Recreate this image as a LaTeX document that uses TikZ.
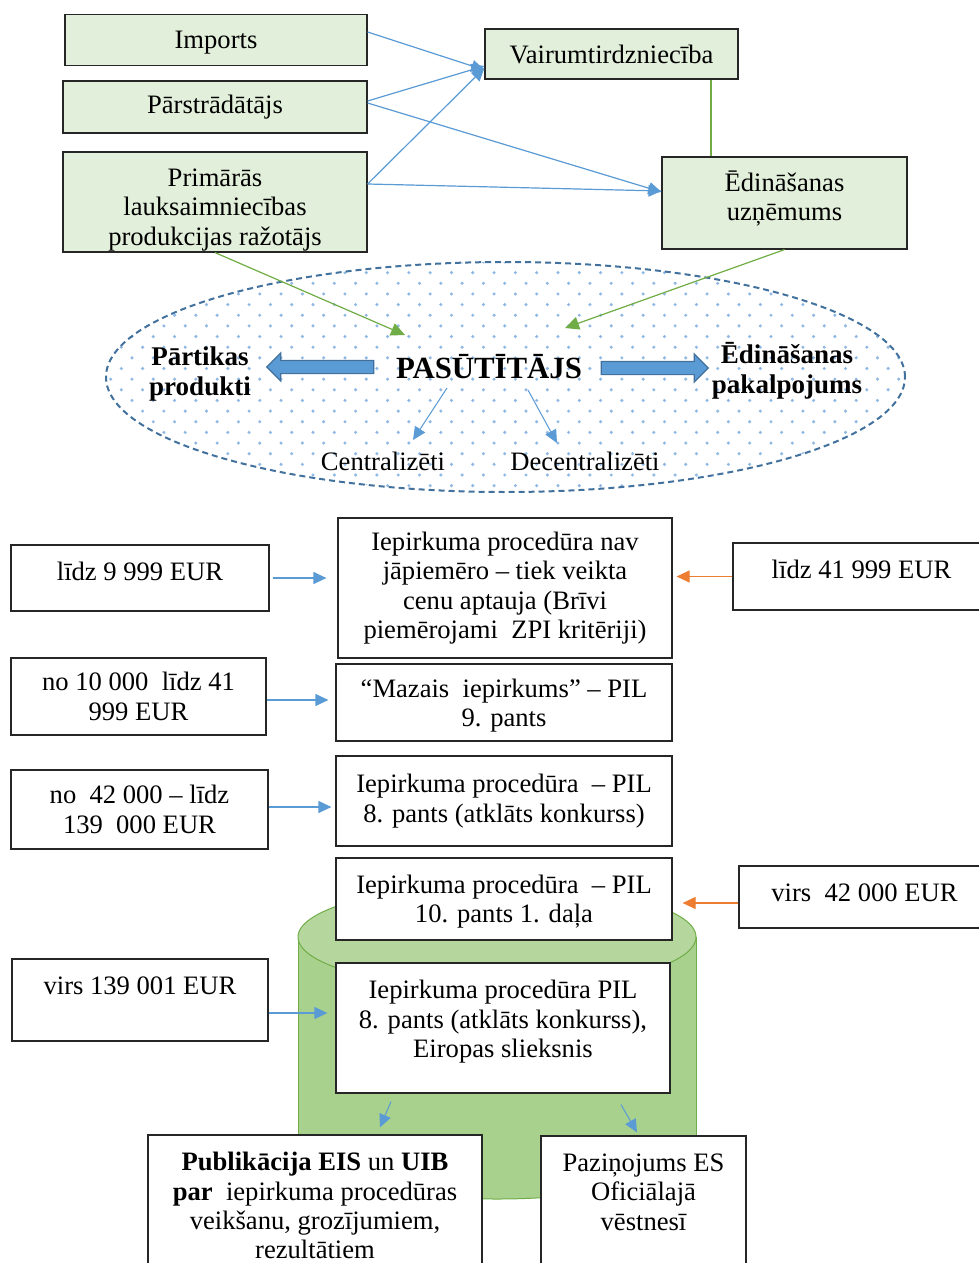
\documentclass[tikz,border=0pt]{standalone}
\usepackage{fontspec}
\setmainfont{Liberation Serif}
\usepackage{tikz}
\usetikzlibrary{arrows.meta, positioning, shapes.arrows, calc}
\definecolor{Zalsgaiss}{RGB}{226,239,218}
\definecolor{Zals}{RGB}{112,173,71}
\definecolor{Zilais}{RGB}{91,155,213}
\definecolor{Zilstums}{RGB}{65,113,156}
\definecolor{Oranzs}{RGB}{237,125,49}
\definecolor{Punkti}{RGB}{143,185,228}
\definecolor{Cilindrs}{RGB}{169,209,142}
\definecolor{Cilvirsus}{RGB}{181,215,158}

\begin{document}
\begin{tikzpicture}[x=0.5pt, y=-0.5pt,
  every node/.style={font=\fontsize{13.3}{14.7}\selectfont},
  dalibnieks/.style={
    rectangle, draw=black!85, line width=0.6pt,
    fill=Zalsgaiss, align=center, inner sep=0pt
  },
  summa/.style={
    rectangle, draw=black!85, line width=0.6pt,
    fill=white, align=center, inner sep=0pt
  },
  procedura/.style={summa},
  bultzila/.style={-{Triangle[length=6.5pt, width=6pt]}, draw=Zilais, fill=Zilais, line width=0.6pt},
  bultorz/.style={-{Triangle[length=6.5pt, width=6pt]}, draw=Oranzs, fill=Oranzs, line width=0.6pt},
  bultzala/.style={-{Triangle[length=7pt, width=6.5pt]}, draw=Zals, fill=Zals, line width=0.6pt},
  bloks/.style={
    single arrow, draw=Zilstums, fill=Zilais, line width=0.6pt,
    text height=3pt, text depth=3pt, single arrow head extend=3.75pt,
    minimum height=53.5pt, inner sep=0pt
  },
  virsraksts/.style={font=\fontsize{13.5}{15}\selectfont\bfseries, align=center}
]
  \useasboundingbox (0,0) rectangle (979,1263);
  \clip (0,0) rectangle (979,1263);

  % --- Piegadataji (augsa) ---
  \node[dalibnieks, minimum width=151pt, minimum height=25.5pt, text depth=0pt] (imports) at (216,40) {Imports};
  \node[dalibnieks, minimum width=152pt, minimum height=26pt]   (parstr)   at (215,107)   {Pārstrādātājs};
  \node[dalibnieks, minimum width=152pt, minimum height=50pt, text height=43pt, text depth=0pt] (primaras) at (215,202) {Primārās\\lauksaimniecības\\produkcijas ražotājs};
  \node[dalibnieks, minimum width=126.5pt, minimum height=25pt] (vairum)   at (611.5,54)  {Vairumtirdzniecība};
  \node[dalibnieks, minimum width=122.5pt, minimum height=46pt, text depth=7.5pt] (edin) at (784.5,203) {Ēdināšanas\\uzņēmums};

  \draw[bultzila] ([yshift=4pt]imports.east)  -- ([yshift=-8pt]vairum.west);
  \draw[bultzila] ([yshift=3pt]parstr.east)   -- ([yshift=-6pt]vairum.west);
  \draw[bultzila] ([yshift=2pt]parstr.east)   -- ([yshift=5.5pt]edin.west);
  \draw[bultzila] ([yshift=9pt]primaras.east) -- ([yshift=-7pt]vairum.west);
  \draw[bultzila] ([yshift=9pt]primaras.east) -- ([yshift=6pt]edin.west);
  \draw[Zals, line width=0.6pt] ([xshift=49.75pt]vairum.south) -- ([xshift=-36.75pt]edin.north);

  % --- Pasutitaja elipse ---
  \fill[white] (505.5,377) ellipse [x radius=199.75pt, y radius=57.5pt];
  \begin{scope}
    \clip (505.5,377) ellipse [x radius=199.75pt, y radius=57.5pt];
    \foreach \r in {0,...,22}
      \foreach \c in {0,...,38}
        \fill[Punkti] ({100+\c*21.3+mod(\r,2)*10.65}, {262+\r*10.65}) circle (0.85pt);
  \end{scope}
  \draw[Zilstums, line width=1pt, dash pattern=on 3pt off 2pt]
    (505.5,377) ellipse [x radius=199.75pt, y radius=57.5pt];

  \node[font=\fontsize{15.4}{17}\selectfont\bfseries] (pas) at (489,367) {PASŪTĪTĀJS};
  \node[virsraksts] (partika) at (200,374) {Pārtikas\\produkti};
  \node[virsraksts] (edpak)   at (787,371) {Ēdināšanas\\pakalpojums};
  \node (centr)   at (383,461) {Centralizēti};
  \node (decentr) at (585,461) {Decentralizēti};

  \node[bloks, shape border rotate=180] (bultpa) at (323.5,367) {};
  \node[bloks]                          (bultep) at (651.5,368) {};

  \draw[bultzala] (primaras.south) -- ([shift={(-84,-32)}]pas.center);
  \draw[bultzala] (edin.south)     -- ([shift={(76,-39)}]pas.center);
  \draw[bultzila, line width=0.5pt] ([shift={(-42,21)}]pas.center) -- ([shift={(30,-21)}]centr.center);
  \draw[bultzila, line width=0.5pt] ([shift={(39,23)}]pas.center)  -- ([shift={(-28,-18)}]decentr.center);

  % --- Cilindrs aiz procedurām ---
  \fill[Cilindrs] (298,937) rectangle (696,1147);
  \fill[Cilindrs] (497,1147) ellipse [x radius=99.5pt, y radius=26pt];
  \draw[Zals, line width=0.5pt] (298,937) -- (298,1147);
  \draw[Zals, line width=0.5pt] (696,937) -- (696,1147);
  \begin{scope}
    \clip (290,1147) rectangle (705,1215);
    \draw[Zals, line width=0.5pt] (497,1147) ellipse [x radius=99.5pt, y radius=26pt];
  \end{scope}
  \draw[Zals, line width=0.5pt, fill=Cilvirsus] (497,937) ellipse [x radius=99.5pt, y radius=26pt];

  % --- Summas ---
  \node[summa, minimum width=129pt, minimum height=33pt, text depth=7pt]     (lidz9)   at (140,578)     {līdz 9 999 EUR};
  \node[summa, minimum width=128.5pt, minimum height=33.5pt, text depth=7pt] (lidz41)  at (861.5,576.5) {līdz 41 999 EUR};
  \node[summa, minimum width=127.5pt, minimum height=38.5pt]                 (no10)    at (138.5,696.5) {no 10 000\ \ līdz 41\\999 EUR};
  \node[summa, minimum width=128.5pt, minimum height=39.5pt]                 (no42)    at (139.5,809.5) {no\ \ 42 000 – līdz\\139\ \ 000 EUR};
  \node[summa, minimum width=125.5pt, minimum height=31pt, text depth=4pt]   (virs42)  at (864.5,897)   {virs\ \ 42 000 EUR};
  \node[summa, minimum width=128pt, minimum height=41pt, text depth=14pt]    (virs139) at (140,1000)    {virs 139 001 EUR};

  % --- Proceduras ---
  \node[procedura, minimum width=167pt, minimum height=70pt]   (p1) at (505,588)   {Iepirkuma procedūra nav\\jāpiemēro – tiek veikta\\cenu aptauja (Brīvi\\piemērojami\ \ ZPI kritēriji)};
  \node[procedura, minimum width=168pt, minimum height=38.5pt, text depth=0pt] (p2) at (504,702.5) {“Mazais\ \ iepirkums” – PIL\\9. pants};
  \node[procedura, minimum width=168pt, minimum height=45pt]   (p3) at (504,801)   {Iepirkuma procedūra\ \ – PIL\\8. pants (atklāts konkurss)};
  \node[procedura, minimum width=168pt, minimum height=41pt, text depth=0pt]   (p4) at (504,899)   {Iepirkuma procedūra\ \ – PIL\\10. pants 1. daļa};
  \node[procedura, minimum width=167pt, minimum height=65pt, text depth=9pt] (p5) at (503,1028) {Iepirkuma procedūra PIL\\8. pants (atklāts konkurss),\\Eiropas slieksnis};

  \node[procedura, minimum width=167pt, minimum height=77.5pt, text depth=7pt] (publ)  at (315,1212.5) {\textbf{Publikācija EIS} un \textbf{UIB}\\\textbf{par}\ \ iepirkuma procedūras\\veikšanu, grozījumiem,\\rezultātiem};
  \node[procedura, minimum width=102.5pt, minimum height=77pt, text depth=21pt] (pazin) at (643.5,1213) {Paziņojums ES\\Oficiālajā\\vēstnesī};

  \draw[bultzila, shorten <=1.5pt, shorten >=5.5pt] (lidz9.east) -- (lidz9.east -| p1.west);
  \draw[bultorz, shorten >=2pt] (lidz41.west) -- (lidz41.west -| p1.east);
  \draw[bultzila, shorten >=3.5pt] ([yshift=-1.75pt]no10.east) -- ([yshift=-1.75pt]no10.east -| p2.west);
  \draw[bultzila, shorten >=2pt] ([yshift=1.25pt]no42.east) -- ([yshift=1.25pt]no42.east -| p3.west);
  \draw[bultorz, shorten >=5pt] ([yshift=-3pt]virs42.west) -- ([yshift=-3pt]virs42.west -| p4.east);
  \draw[bultzila, shorten >=4pt] ([yshift=-6.5pt]virs139.east) -- ([yshift=-6.5pt]virs139.east -| p5.west);
  \draw[bultzila, line width=0.5pt] ([shift={(-112,8)}]p5.south) -- ([shift={(65,-7)}]publ.north);
  \draw[bultzila, line width=0.5pt] ([shift={(118,11)}]p5.south) -- ([shift={(-6.5,-3)}]pazin.north);
\end{tikzpicture}
\end{document}
